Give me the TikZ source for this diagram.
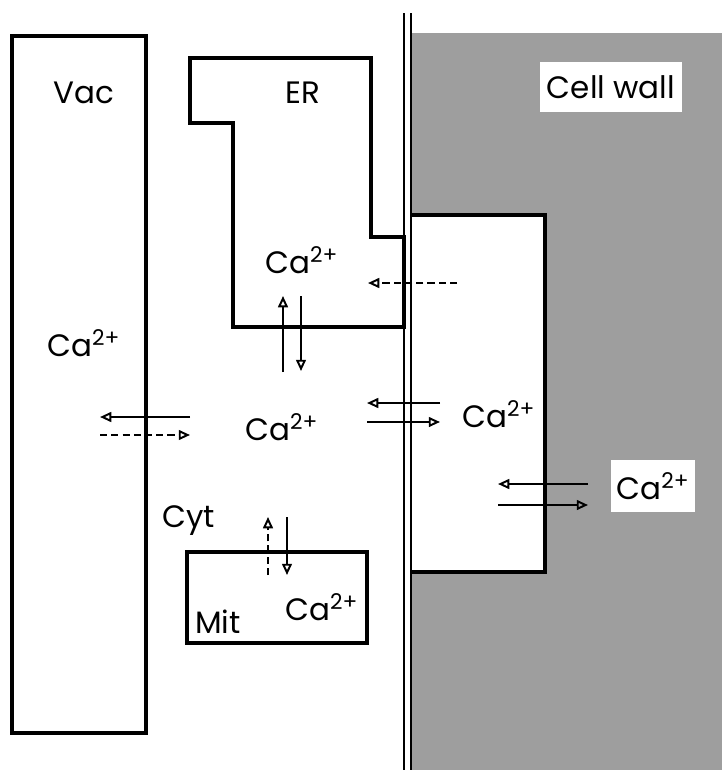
\documentclass[tikz,border=0pt]{standalone}
\usepackage{fontspec}
\setmainfont{Poppins}
\usetikzlibrary{arrows.meta,positioning}

\begin{document}
\begin{tikzpicture}[
  x=0.025cm, y=-0.025cm,
  wall/.style={line width=2.2pt},
  lbl/.style={font=\fontsize{22}{26}\selectfont, inner sep=0pt, anchor=base west},
  tag/.style={font=\fontsize{22}{26}\selectfont, fill=white, inner sep=0pt},
  arr/.style={-{Triangle[open,length=8pt,width=7pt]}, line width=1.4pt},
  darr/.style={arr, dash pattern=on 5pt off 3pt}
]
  \useasboundingbox (0,0) rectangle (722,770);
  \fill[black!38] (410,33) rectangle (722,770);
  \filldraw[wall, fill=white] (410,215) -- (545,215) -- (545,572) -- (410,572);
  \draw[line width=1.5pt] (404,13) -- (404,770) (411,13) -- (411,770);
  \draw[wall] (12,36) rectangle (146,733);
  \draw[wall] (190,58) -| (371,237) -- (404,237) -- (404,327) -| (233,123) -- (190,123) -- cycle;
  \draw[wall] (187,552) rectangle (367,643);

  \node[lbl] (vac) at (53,103) {Vac};
  \node[lbl] (er) at (285,103) {ER};
  \node[tag, minimum width=3.55cm, minimum height=1.25cm] (cw) at (611,87) {Cell wall};
  \node[lbl] (cavac) at (47,356) {Ca\textsuperscript{2+}};
  \node[lbl] (caer) at (265,273) {Ca\textsuperscript{2+}};
  \node[lbl] (cacyt) at (245,440) {Ca\textsuperscript{2+}};
  \node[lbl] (cabay) at (462,427) {Ca\textsuperscript{2+}};
  \node[tag, minimum width=2.08cm, minimum height=1.3cm] (cacw) at (653,486) {Ca\textsuperscript{2+}};
  \node[lbl] (cyt) at (162,527) {Cyt};
  \node[lbl] (mit) at (195,633) {Mit};
  \node[lbl] (camit) at (285,620) {Ca\textsuperscript{2+}};

  \coordinate (va) at (190,417); \coordinate (vb) at (100,417);
  \coordinate (vc) at (100,435); \coordinate (vd) at (190,435);
  \coordinate (ea) at (283,372); \coordinate (eb) at (283,296);
  \coordinate (ec) at (301,296); \coordinate (ed) at (301,371);
  \coordinate (ee) at (457,283); \coordinate (ef) at (368,283);
  \coordinate (pa) at (440,403); \coordinate (pb) at (367,403);
  \coordinate (pc) at (367,422); \coordinate (pd) at (440,422);
  \coordinate (ma) at (268,575); \coordinate (mb) at (268,517);
  \coordinate (mc) at (287,517); \coordinate (md) at (287,575);
  \coordinate (wa) at (588,484); \coordinate (wb) at (498,484);
  \coordinate (wc) at (498,505); \coordinate (wd) at (588,505);

  \draw[arr] (va) -- (vb);
  \draw[darr] (vc) -- (vd);
  \draw[arr] (ea) -- (eb);
  \draw[arr] (ec) -- (ed);
  \draw[darr] (ee) -- (ef);
  \draw[arr] (pa) -- (pb);
  \draw[arr] (pc) -- (pd);
  \draw[darr] (ma) -- (mb);
  \draw[arr] (mc) -- (md);
  \draw[arr] (wa) -- (wb);
  \draw[arr] (wc) -- (wd);
\end{tikzpicture}
\end{document}
